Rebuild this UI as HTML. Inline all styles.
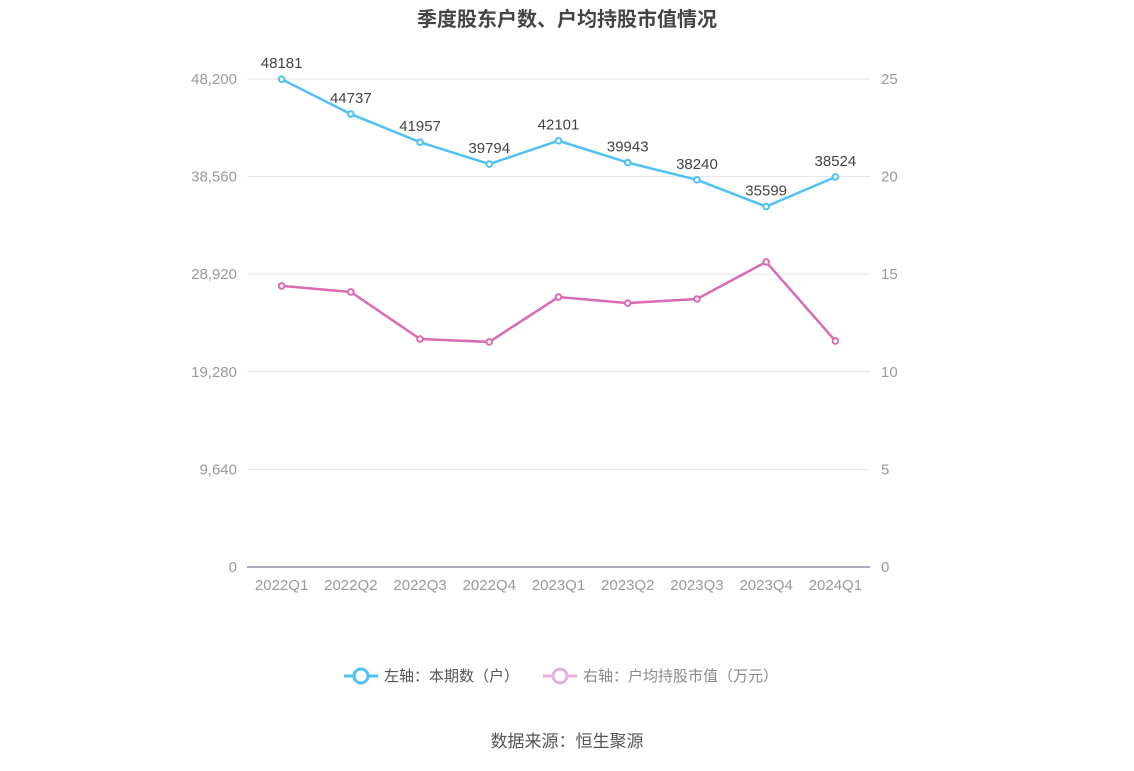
<!DOCTYPE html>
<html><head><meta charset="utf-8"><style>
body{margin:0;background:#fff;font-family:"Liberation Sans","Noto Sans CJK SC",sans-serif;}
</style></head><body>
<svg id="c" width="1134" height="766" xmlns="http://www.w3.org/2000/svg" font-family="Liberation Sans, Noto Sans CJK SC, sans-serif">
<text x="567" y="26" text-anchor="middle" font-size="20" font-weight="bold" fill="#444">季度股东户数、户均持股市值情况</text>
<g id="grid"></g><g id="marks"></g>
<g>
<g>
<line x1="344" y1="676" x2="378" y2="676" stroke="#4fc1f6" stroke-width="3"/>
<circle cx="361" cy="676" r="7" fill="#fff" stroke="#4fc1f6" stroke-width="3"/>
<text x="384" y="681" font-size="15" fill="#555">左轴：本期数（户）</text></g>
<g>
<line x1="543" y1="676" x2="577" y2="676" stroke="#eeb0d6" stroke-width="3"/>
<circle cx="560" cy="676" r="7" fill="#fff" stroke="#eeb0d6" stroke-width="3"/>
<text x="583" y="681" font-size="15" fill="#888">右轴：户均持股市值（万元）</text></g>
</g>
<text x="567" y="747" text-anchor="middle" font-size="17" fill="#555">数据来源：恒生聚源</text>
</svg>
<script>
const categories=["2022Q1","2022Q2","2022Q3","2022Q4","2023Q1","2023Q2","2023Q3","2023Q4","2024Q1"];
const holders=[48181,44737,41957,39794,42101,39943,38240,35599,38524];
const avgValue=[14.4,14.09,11.68,11.53,13.83,13.52,13.73,15.63,11.58];
const leftTicks=[0,9640,19280,28920,38560,48200];
const rightTicks=[0,5,10,15,20,25];
const NS="http://www.w3.org/2000/svg";
const x0=247,x1=870,yb=567,yt=79;
const step=(x1-x0)/categories.length;
const xs=i=>x0+step*(i+0.5);
const yl=v=>yb-(v/48200)*(yb-yt);
const yr=v=>yb-(v/25)*(yb-yt);
function mk(t,a,p){const e=document.createElementNS(NS,t);for(const k in a)e.setAttribute(k,a[k]);p.appendChild(e);return e;}
const g=document.getElementById('grid'),m=document.getElementById('marks');
leftTicks.forEach((v,i)=>{
 const y=yl(v);
 const ln=mk('line',{x1:x0,x2:x1,y1:y,y2:y,stroke:i==0?'#8f8fa8':'#e3e3ef','stroke-width':i==0?1.5:1},g);
 
 
 const t=mk('text',{x:237,y:y+5,'text-anchor':'end','font-size':15,fill:'#999'},g);t.textContent=v.toLocaleString('en-US');
 
 
 const r=mk('text',{x:881,y:yr(rightTicks[i])+5,'font-size':15,fill:'#999'},g);r.textContent=rightTicks[i];
 
 
});
categories.forEach((c,i)=>{
 const t=mk('text',{x:xs(i),y:590,'text-anchor':'middle','font-size':15,fill:'#999'},g);t.textContent=c;
 
 
});
function series(vals,yf,col,name,labels){
 const p=mk('polyline',{points:vals.map((v,i)=>xs(i)+','+yf(v)).join(' '),fill:'none',stroke:col,'stroke-width':2.5},m);
 
 
 vals.forEach((v,i)=>{
  const c=mk('circle',{cx:xs(i),cy:yf(v),r:2.8,fill:'#fff',stroke:col,'stroke-width':2},m);
  
  
  if(labels){const t=mk('text',{x:xs(i),y:yf(v)-11,'text-anchor':'middle','font-size':15,fill:'#444'},m);t.textContent=v;
  
  }
 });
}
series(avgValue,yr,'#d96bb2','avg-value',false);
series(holders,yl,'#4fc1f6','holders',true);
</script>
</body></html>
